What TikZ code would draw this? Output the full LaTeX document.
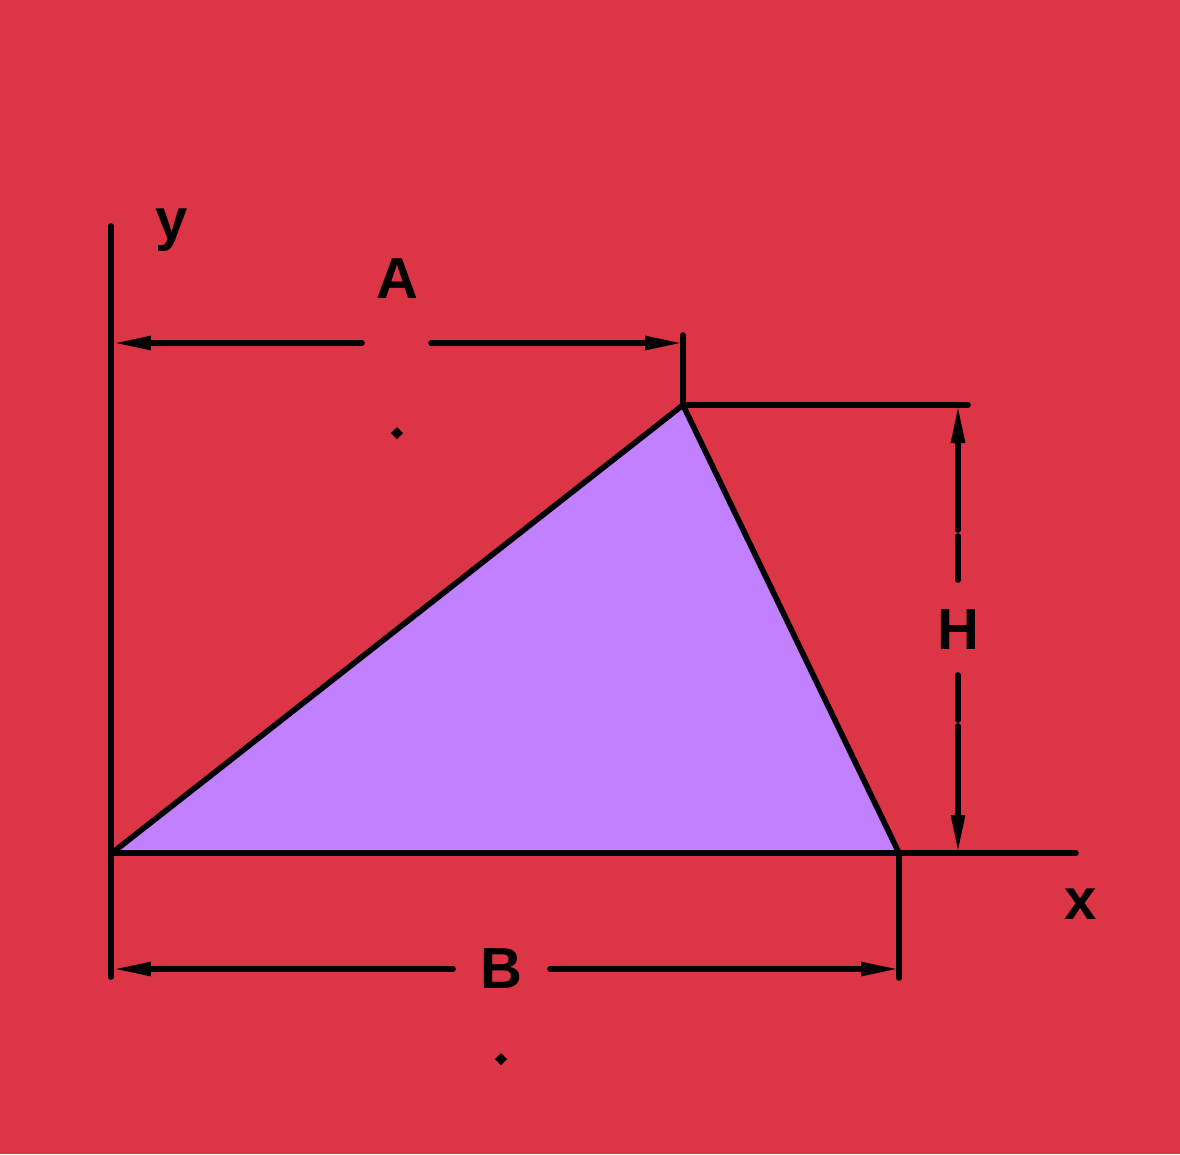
\documentclass[tikz,border=0pt]{standalone}
\usepackage{fontspec}
\setmainfont{Liberation Sans}
\usetikzlibrary{arrows.meta}
\definecolor{bgred}{RGB}{220,53,69}
\definecolor{fillpurple}{RGB}{192,128,255}
\begin{document}
\begin{tikzpicture}[x=0.02cm,y=-0.02cm,
  ln/.style={line width=3.2pt,line cap=round,draw=black},
  dimarrow/.style={-{Triangle[length=0.76cm,width=0.26cm]}},
  lbl/.style={font=\fontsize{33}{40}\selectfont\bfseries,inner sep=0pt},
  dotmark/.style={fill=black}]
\fill[bgred] (0,0) rectangle (1180,1154);
\useasboundingbox (0,0) rectangle (1180,1154);
% points
\coordinate (O) at (112,853);
\coordinate (P) at (683,405);
\coordinate (Q) at (899,853);
\coordinate (ytop) at (111,226);
\coordinate (ybot) at (111,977);
\coordinate (xend) at (1076,853);
% triangle
\filldraw[fill=fillpurple,ln,line join=round] (O) -- (P) -- (Q) -- cycle;
% axes
\draw[ln] (ytop) -- (ybot);
\draw[ln] (O) -- (xend);
\node[lbl] (ylab) at (172,230) {y};
\node[lbl] (xlab) at (1081,904) {x};
% A dimension
\coordinate (Aext) at (683,335);
\draw[ln] (P) -- (Aext);
\coordinate (AL) at (113,343);
\coordinate (AR) at (683,343);
\coordinate (Ag1) at (362,343);
\coordinate (Ag2) at (431,343);
\draw[ln,dimarrow] (Ag1) -- (AL);
\draw[ln,dimarrow] (Ag2) -- (AR);
\node[lbl] (Alab) at (397,279) {A};
\fill[dotmark] (397,427) -- (403,433) -- (397,439) -- (391,433) -- cycle;
% H dimension
\coordinate (Hext) at (968,405);
\draw[ln] (P) -- (Hext);
\coordinate (HT) at (958,405);
\coordinate (HB) at (958,853);
\coordinate (Hg1) at (958,530);
\coordinate (Hg2) at (958,536);
\coordinate (Hg3) at (958,580);
\coordinate (Hg4) at (958,675);
\coordinate (Hg5) at (958,720);
\coordinate (Hg6) at (958,726);
\draw[ln,dimarrow] (Hg1) -- (HT);
\draw[ln] (Hg2) -- (Hg3);
\draw[ln] (Hg4) -- (Hg5);
\draw[ln,dimarrow] (Hg6) -- (HB);
\node[lbl] (Hlab) at (958,630) {H};
% B dimension
\coordinate (Bext) at (899,978);
\draw[ln] (Q) -- (Bext);
\coordinate (BL) at (113,969);
\coordinate (BR) at (899,969);
\coordinate (Bg1) at (453,969);
\coordinate (Bg2) at (550,969);
\draw[ln,dimarrow] (Bg1) -- (BL);
\draw[ln,dimarrow] (Bg2) -- (BR);
\node[lbl] (Blab) at (501,969) {B};
\fill[dotmark] (501,1053) -- (507,1059) -- (501,1065) -- (495,1059) -- cycle;
\end{tikzpicture}
\end{document}
